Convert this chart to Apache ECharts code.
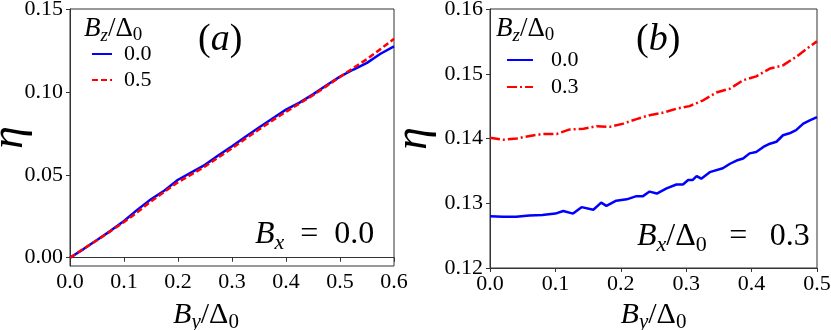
<!DOCTYPE html>
<html><head><meta charset="utf-8">
<script src="https://cdn.jsdelivr.net/npm/echarts@6/dist/echarts.min.js"></script>
<style>html,body{margin:0;padding:0;background:#fff}#c{width:831px;height:330px}</style>
</head><body><div id="c"></div>
<script>
// Panel (a): B_x = 0.0
const aX = [0,0.025,0.05,0.075,0.1,0.125,0.15,0.175,0.2,0.225,0.25,0.275,0.3,0.325,0.35,0.375,0.4,0.425,0.45,0.475,0.5,0.525,0.55,0.575,0.6];
const aBlue = [0,0.0052,0.0107,0.0162,0.0221,0.0290,0.0352,0.0405,0.0470,0.0515,0.0560,0.0618,0.0672,0.0730,0.0785,0.0840,0.0893,0.0935,0.0985,0.1040,0.1092,0.1135,0.1175,0.1230,0.1275];
const aRed = [0,0.0053,0.0105,0.0160,0.0215,0.0275,0.0340,0.0398,0.0455,0.0503,0.0550,0.0605,0.0660,0.0718,0.0773,0.0828,0.0880,0.0930,0.0980,0.1035,0.1090,0.1145,0.1198,0.1258,0.1320];
// Panel (b): B_x/Δ0 = 0.3
const bBlueX = [0,0.02,0.04,0.06,0.08,0.10,0.112,0.127,0.14,0.158,0.17,0.178,0.193,0.209,0.224,0.234,0.244,0.255,0.27,0.285,0.295,0.303,0.31,0.316,0.323,0.336,0.356,0.367,0.377,0.387,0.397,0.407,0.418,0.428,0.438,0.448,0.458,0.468,0.479,0.489,0.5];
const bBlue = [0.1280,0.1279,0.1279,0.1281,0.1282,0.1284,0.1288,0.1284,0.1294,0.1290,0.1301,0.1296,0.1304,0.1306,0.1311,0.1311,0.1318,0.1315,0.1323,0.1329,0.1329,0.1336,0.1336,0.1342,0.1338,0.1348,0.1354,0.1361,0.1366,0.1369,0.1377,0.1379,0.1387,0.1392,0.1395,0.1405,0.1408,0.1413,0.1423,0.1428,0.1433];
const bRedX = [0,0.02,0.041,0.061,0.081,0.102,0.122,0.143,0.163,0.183,0.204,0.224,0.244,0.265,0.285,0.305,0.326,0.346,0.367,0.387,0.407,0.428,0.448,0.468,0.489,0.5];
const bRed = [0.1401,0.1398,0.1400,0.1404,0.1407,0.1407,0.1414,0.1415,0.1419,0.1418,0.1423,0.1430,0.1436,0.1440,0.1446,0.1450,0.1459,0.1471,0.1477,0.1490,0.1496,0.1508,0.1513,0.1526,0.1542,0.1550];
const aYTicks = [0,0.05,0.10,0.15];
const bYTicks = [0.12,0.13,0.14,0.15,0.16];
const legendA = ['0.0','0.5'];
const legendB = ['0.0','0.3'];

const SERIF = "Liberation Serif";
const pairs = (xs, ys) => xs.map((x, i) => [x, ys[i]]);
function mathRich(F) {
  return {
    i: {fontFamily: SERIF, fontStyle: 'italic', fontSize: F, color: '#000'},
    n: {fontFamily: SERIF, fontSize: F, color: '#000'},
    si: {fontFamily: SERIF, fontStyle: 'italic', fontSize: Math.round(F*0.7), padding: [Math.round(F*0.5),0,0,0], color: '#000'},
    sn: {fontFamily: SERIF, fontSize: Math.round(F*0.7), padding: [Math.round(F*0.5),0,0,0], color: '#000'}
  };
}
const axisCommon = {
  axisLine: {show: true, lineStyle: {color: '#333', width: 1}},
  axisTick: {show: true, length: 4, lineStyle: {color: '#333'}},
  splitLine: {show: false},
  nameMoveOverlap: false
};
const tickFont = {fontFamily: SERIF, fontSize: 22, color: '#000'};

const chart = echarts.init(document.getElementById('c'), null, {renderer: 'canvas'});
chart.setOption({
  animation: false,
  backgroundColor: '#fff',
  textStyle: {fontFamily: SERIF},
  grid: [
    {left: 70, right: 437, top: 9, bottom: 64, outerBoundsMode: 'none', containLabel: false, show: true, borderColor: '#333', borderWidth: 1, backgroundColor: 'transparent'},
    {left: 490, right: 14, top: 9, bottom: 62, outerBoundsMode: 'none', containLabel: false, show: true, borderColor: '#333', borderWidth: 1, backgroundColor: 'transparent'}
  ],
  xAxis: [
    Object.assign({}, axisCommon, {type: 'value', gridIndex: 0, min: 0, max: 0.6, interval: 0.1,
      axisLabel: Object.assign({}, tickFont, {margin: 5, formatter: v => v.toFixed(1)}),
      name: '{i|B}{si|y}{n|/Δ}{sn|0}', nameLocation: 'middle', nameGap: 31,
      nameTextStyle: {rich: mathRich(30), padding: [0, 52, 0, 0]}}),
    Object.assign({}, axisCommon, {type: 'value', gridIndex: 1, min: 0, max: 0.5, interval: 0.1,
      axisLabel: Object.assign({}, tickFont, {margin: 5, formatter: v => v.toFixed(1)}),
      name: '{i|B}{si|y}{n|/Δ}{sn|0}', nameLocation: 'middle', nameGap: 29,
      nameTextStyle: {rich: mathRich(30)}})
  ],
  yAxis: [
    Object.assign({}, axisCommon, {type: 'value', gridIndex: 0, min: -0.005, max: 0.15,
      axisTick: {show: true, length: 4, lineStyle: {color: '#333'}, customValues: aYTicks},
      axisLabel: Object.assign({}, tickFont, {margin: 7, customValues: aYTicks, formatter: v => v.toFixed(2)}),
      name: 'η', nameLocation: 'middle', nameRotate: 90, nameGap: 37,
      nameTextStyle: {fontFamily: SERIF, fontStyle: 'italic', fontSize: 46, color: '#000'}}),
    Object.assign({}, axisCommon, {type: 'value', gridIndex: 1, min: 0.12, max: 0.16,
      axisTick: {show: true, length: 4, lineStyle: {color: '#333'}, customValues: bYTicks},
      axisLabel: Object.assign({}, tickFont, {margin: 7, customValues: bYTicks, formatter: v => v.toFixed(2)}),
      name: 'η', nameLocation: 'middle', nameRotate: 90, nameGap: 53,
      nameTextStyle: {fontFamily: SERIF, fontStyle: 'italic', fontSize: 46, color: '#000'}})
  ],
  legend: [
    {orient: 'vertical', left: 91, top: 43, padding: 0, itemWidth: 20, itemHeight: 14, itemGap: 4,
      itemStyle: {opacity: 0},
      data: ['a' + legendA[0], 'a' + legendA[1]], formatter: n => n.slice(1),
      textStyle: {fontFamily: SERIF, fontSize: 22, color: '#000', lineHeight: 20, padding: [0,0,0,7]}},
    {orient: 'vertical', left: 506, top: 49, padding: 0, itemWidth: 26, itemHeight: 14, itemGap: 5,
      itemStyle: {opacity: 0},
      data: ['b' + legendB[0], 'b' + legendB[1]], formatter: n => n.slice(1),
      textStyle: {fontFamily: SERIF, fontSize: 22, color: '#000', lineHeight: 20, padding: [0,0,0,13]}}
  ],
  series: [
    {name: 'a' + legendA[0], type: 'line', xAxisIndex: 0, yAxisIndex: 0, data: pairs(aX, aBlue), symbol: 'none', showSymbol: false,
      lineStyle: {color: '#0000ff', width: 2.5}, itemStyle: {color: '#0000ff'}, z: 3},
    {name: 'a' + legendA[1], type: 'line', xAxisIndex: 0, yAxisIndex: 0, data: pairs(aX, aRed), symbol: 'none', showSymbol: false,
      lineStyle: {color: '#ff0000', width: 2.5, type: [6, 3]}, itemStyle: {color: '#ff0000'}, z: 4},
    {name: 'b' + legendB[0], type: 'line', xAxisIndex: 1, yAxisIndex: 1, data: pairs(bBlueX, bBlue), symbol: 'none', showSymbol: false,
      lineStyle: {color: '#0000ff', width: 2.5}, itemStyle: {color: '#0000ff'}},
    {name: 'b' + legendB[1], type: 'line', xAxisIndex: 1, yAxisIndex: 1, data: pairs(bRedX, bRed), symbol: 'none', showSymbol: false,
      lineStyle: {color: '#ff0000', width: 2.5, type: [10, 3, 2, 3]}, itemStyle: {color: '#ff0000'}}
  ],
  graphic: [
    {type: 'text', left: 84, top: 15, style: {text: '{i|B}{si|z}{n|/Δ}{sn|0}', rich: mathRich(27)}},
    {type: 'text', left: 496, top: 15, style: {text: '{i|B}{si|z}{n|/Δ}{sn|0}', rich: mathRich(27)}},
    {type: 'text', left: 198, top: 21, style: {text: '{n|(}{i|a}{n|)}', rich: mathRich(38)}},
    {type: 'text', left: 636, top: 21, style: {text: '{n|(}{i|b}{n|)}', rich: mathRich(38)}},
    {type: 'text', left: 255, top: 219, style: {text: '{i|B}{si|x}{n|\u2002=\u20020.0}', rich: mathRich(32)}},
    {type: 'text', left: 637, top: 221, style: {text: '{i|B}{si|x}{n|/Δ}{sn|0}{n|\u2002\u2009=\u2009\u20020.3}', rich: mathRich(32)}}
  ]
});
</script></body></html>
